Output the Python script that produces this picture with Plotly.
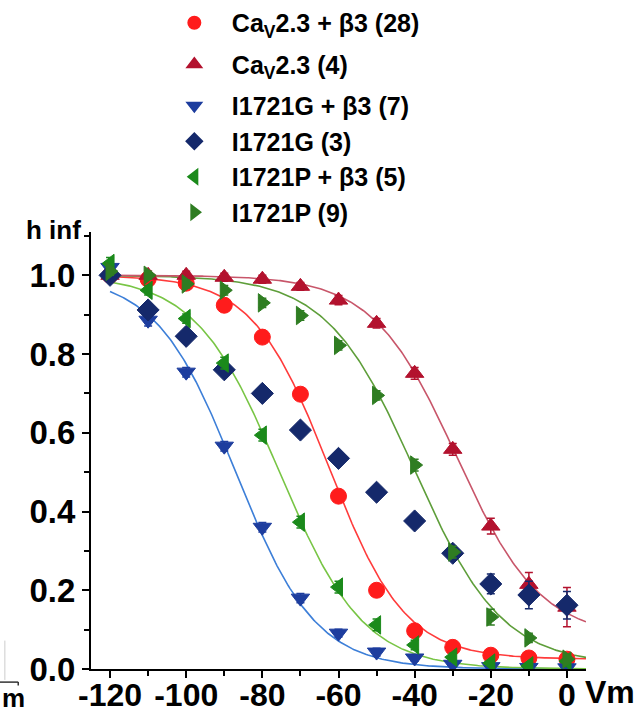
import numpy as np
import plotly.graph_objects as go

# Test potentials (mV)
vm = [-120, -110, -100, -90, -80, -70, -60, -50, -40, -30, -20, -10, 0]
vm_ticks = [-120, -100, -80, -60, -40, -20, 0]
vm_ticktext = ["-120", "-100", "-80", "-60", "-40", "-20", "0"]

# Steady-state inactivation (h inf), mean and SEM per construct
cav23_b3 = [1.00, 0.99, 0.98, 0.924, 0.843, 0.698, 0.439, 0.200, 0.097, 0.055, 0.035, 0.028, 0.025]
cav23_b3_err = [0.01, 0.01, 0.01, 0.01, 0.01, 0.01, 0.012, 0.01, 0.01, 0.008, 0.006, 0.006, 0.006]

cav23 = [1.00, 1.00, 1.00, 0.995, 0.99, 0.972, 0.937, 0.878, 0.751, 0.558, 0.363, 0.215, 0.157]
cav23_err = [0.01, 0.01, 0.01, 0.01, 0.01, 0.01, 0.012, 0.012, 0.015, 0.015, 0.02, 0.03, 0.05]

g_b3 = [1.02, 0.886, 0.754, 0.566, 0.360, 0.180, 0.091, 0.043, 0.028, 0.012, 0.006, 0.004, 0.003]
g_b3_err = [0.015, 0.015, 0.012, 0.012, 0.012, 0.012, 0.01, 0.01, 0.008, 0.006, 0.004, 0.003, 0.003]

g = [1.00, 0.912, 0.845, 0.760, 0.700, 0.607, 0.535, 0.449, 0.376, 0.294, 0.216, 0.188, 0.162]
g_err = [0.01, 0.015, 0.012, 0.012, 0.012, 0.012, 0.015, 0.012, 0.012, 0.012, 0.025, 0.035, 0.035]

p_b3 = [1.03, 0.962, 0.890, 0.777, 0.594, 0.373, 0.208, 0.112, 0.061, 0.030, 0.015, 0.008, 0.020]
p_b3_err = [0.015, 0.012, 0.012, 0.015, 0.015, 0.015, 0.015, 0.015, 0.012, 0.01, 0.006, 0.004, 0.006]

p = [1.01, 1.00, 0.978, 0.962, 0.930, 0.898, 0.822, 0.695, 0.518, 0.297, 0.132, 0.079, 0.025]
p_err = [0.01, 0.01, 0.01, 0.012, 0.012, 0.012, 0.012, 0.012, 0.015, 0.015, 0.02, 0.012, 0.006]

# Boltzmann fit parameters: (V50, slope k, residual A)
fit_cav23_b3 = (-62.5, 10.0, 0.025)
fit_cav23 = (-29.0, 11.0, 0.08)
fit_g_b3 = (-87.0, 10.5, 0.0)
fit_p_b3 = (-75.5, 11.0, 0.0)
fit_p = (-40.0, 11.5, 0.01)

names = ["Ca<sub>V</sub>2.3 + β3 (28)", "Ca<sub>V</sub>2.3 (4)", "I1721G + β3 (7)",
         "I1721G (3)", "I1721P + β3 (5)", "I1721P (9)"]

FONT = "Liberation Sans, Arial, sans-serif"


def boltzmann(v, params):
    v50, k, a = params
    return a + (1 - a) / (1 + np.exp((v - v50) / k))


fig = go.Figure()

# Fitted Boltzmann curves underneath the data points
v_fine = np.linspace(-120, 5, 300)
curves = [
    (fit_g_b3, "#3d7fd8"),
    (fit_p_b3, "#78c545"),
    (fit_cav23_b3, "#ff3b3b"),
    (fit_p, "#5e9e3a"),
    (fit_cav23, "#c8566a"),
]
for params, col in curves:
    fig.add_trace(go.Scatter(x=v_fine, y=boltzmann(v_fine, params), mode="lines",
                             line=dict(color=col, width=1.6), showlegend=False,
                             hoverinfo="skip"))

series = [
    (cav23_b3, cav23_b3_err, "circle", "#ff1c1c", 16, "a"),
    (cav23, cav23_err, "triangle-up", "#b3122e", 16, "b"),
    (g_b3, g_b3_err, "triangle-down", "#1d3d9e", 16, "c"),
    (g, g_err, "diamond", "#15296b", 17, "c"),
    (p_b3, p_b3_err, "triangle-left", "#1b8a1b", 16, "c"),
    (p, p_err, "triangle-right", "#2f7d22", 16, "c"),
]
for (vals, err, sym, col, size, grp), name in zip(series, names):
    fig.add_trace(go.Scatter(
        x=vm, y=vals, mode="markers", name=name, legendgroup=grp,
        marker=dict(symbol=sym, size=size, color=col, line=dict(color=col, width=1)),
        error_y=dict(type="data", array=err, color=col, thickness=1.5, width=4),
    ))

axis_common = dict(
    showline=True, linecolor="black", linewidth=2, mirror=False,
    ticks="outside", ticklen=7, tickwidth=2, tickcolor="black",
    showgrid=False, zeroline=False, automargin=False,
)

fig.update_xaxes(range=[-125, 5], tickvals=vm_ticks, ticktext=vm_ticktext,
                 ticklabelstandoff=-10,
                 tickfont=dict(family=FONT, size=32, color="black", weight="bold"),
                 minor=dict(dtick=10, tick0=0, ticklen=5, tickwidth=2, tickcolor="black",
                            ticks="outside"),
                 **axis_common)
fig.update_yaxes(range=[0, 1.11], tickvals=[0, 0.2, 0.4, 0.6, 0.8, 1.0], tickformat=".1f",
                 tickfont=dict(family=FONT, size=33, color="black", weight="bold"),
                 minor=dict(dtick=0.1, tick0=0, ticklen=5, tickwidth=2, tickcolor="black",
                            ticks="outside"),
                 **axis_common)

fig.update_layout(
    width=638, height=715,
    margin=dict(l=91, r=52, t=232, b=46, autoexpand=False),
    paper_bgcolor="white", plot_bgcolor="white",
    font=dict(family=FONT, color="black"),
    legend=dict(x=0.133, y=1.531, xanchor="left", yanchor="top",
                font=dict(family=FONT, size=25, color="black", weight="bold"),
                itemsizing="constant", tracegroupgap=6, itemwidth=65,
                bgcolor="rgba(0,0,0,0)"),
    annotations=[
        dict(text="<b>h inf</b>", xref="paper", yref="paper", x=-0.016, y=1.005,
             xanchor="right", yanchor="middle", showarrow=False,
             font=dict(family=FONT, size=26, color="black")),
        dict(text="<b>Vm</b>", xref="paper", yref="paper", x=0.994, y=-0.053,
             xanchor="left", yanchor="middle", showarrow=False,
             font=dict(family=FONT, size=32, color="black")),
        dict(text="<b>m</b>", xref="paper", yref="paper", x=-0.156, y=-0.1053,
             xanchor="center", yanchor="bottom", showarrow=False,
             font=dict(family=FONT, size=26, color="black")),
    ],
    shapes=[
        dict(type="line", xref="paper", yref="paper", x0=-0.184, x1=-0.147,
             y0=-0.030, y1=-0.030, line=dict(color="#333333", width=1.5)),
        dict(type="line", xref="paper", yref="paper", x0=-0.147, x1=-0.147,
             y0=-0.030, y1=-0.038, line=dict(color="#333333", width=1.5)),
        dict(type="line", xref="paper", yref="paper", x0=-0.174, x1=-0.174,
             y0=0.065, y1=-0.025, line=dict(color="#cccccc", width=1)),
    ],
)

fig.write_html("out.html")
